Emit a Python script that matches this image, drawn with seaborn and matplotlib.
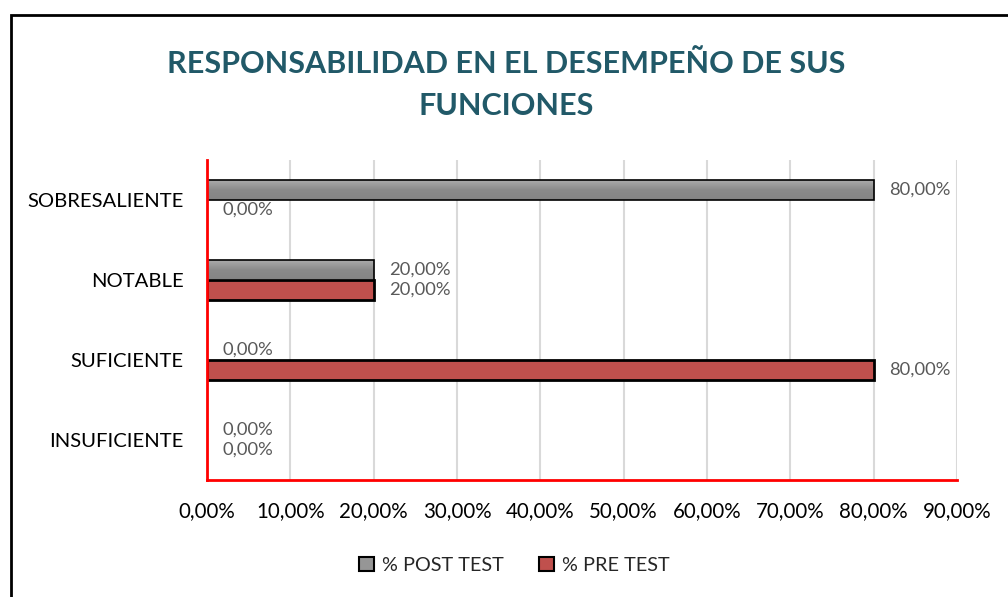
import matplotlib
matplotlib.use('Agg')
import matplotlib.pyplot as plt
import seaborn as sns
import numpy as np
import pandas as pd
from matplotlib.patches import Rectangle, Patch
from matplotlib.colors import LinearSegmentedColormap

# Datos del gráfico
categorias = ["SOBRESALIENTE", "NOTABLE", "SUFICIENTE", "INSUFICIENTE"]
series = ["% POST TEST", "% PRE TEST"]
post_test = [0.80, 0.20, 0.00, 0.00]
pre_test = [0.00, 0.20, 0.80, 0.00]
ticks_x = [0.0, 0.1, 0.2, 0.3, 0.4, 0.5, 0.6, 0.7, 0.8, 0.9]
titulo = "RESPONSABILIDAD EN EL DESEMPEÑO DE SUS\nFUNCIONES"

colores = ["#969696", "#C0504D"]


def pct(v):
    return f"{v * 100:.2f}".replace(".", ",") + "%"


df = pd.DataFrame({
    "categoria": categorias * 2,
    "serie": [series[0]] * len(categorias) + [series[1]] * len(categorias),
    "valor": post_test + pre_test,
})

sns.set_style("white")
plt.rcParams["font.family"] = ["Lato", "DejaVu Sans"]

fig = plt.figure(figsize=(10.08, 5.97), dpi=100)
ax = fig.add_axes([0.2054, 0.196, 0.744, 0.536])

sns.barplot(data=df, y="categoria", x="valor", hue="serie", order=categorias,
            hue_order=series, palette=colores, orient="h", width=0.5,
            saturation=1, legend=False, ax=ax)

degradado = LinearSegmentedColormap.from_list("gris", ["#ababab", "#8a8a8a", "#848484"])
grad = np.linspace(0, 1, 64).reshape(-1, 1)

# Bordes, degradado y etiquetas de datos
for i, cont in enumerate(ax.containers):
    for p in cont.patches:
        if p.get_width() == 0:
            p.set_linewidth(0)
            continue
        p.set_edgecolor("black")
        p.set_linewidth(1.2 if i == 0 else 2)
        if i == 0:
            x0, y0 = p.get_x(), p.get_y()
            w, h = p.get_width(), p.get_height()
            z = p.get_zorder()
            im = ax.imshow(grad, cmap=degradado, aspect="auto",
                           extent=(x0, x0 + w, y0 + h, y0), zorder=z + 0.1)
            im.set_clip_path(p)
            p.set_facecolor("none")
            p.set_zorder(z + 0.2)
    ax.bar_label(cont, labels=[pct(v) for v in cont.datavalues], padding=11,
                 color="#595959", fontsize=13.2)

ax.set_xlim(0, 0.9)
ax.set_ylim(len(categorias) - 0.5, -0.5)
ax.set_xticks(ticks_x)
ax.set_xticklabels([pct(t) for t in ticks_x])
ax.tick_params(axis="x", length=0, pad=15, labelsize=14.8, labelcolor="black")
ax.tick_params(axis="y", length=0, pad=17, labelsize=14.6, labelcolor="black")
ax.set_xlabel("")
ax.set_ylabel("")
ax.grid(axis="x", color="#d9d9d9", linewidth=1.5)
ax.set_axisbelow(True)

for s in ["top", "right"]:
    ax.spines[s].set_visible(False)
for s in ["left", "bottom"]:
    ax.spines[s].set_color("#ff0000")
    ax.spines[s].set_linewidth(2)

fig.text(0.502, 0.858, titulo, ha="center", va="center", fontsize=22,
         fontweight="bold", color="#215968", linespacing=1.6)

handles = [Patch(facecolor=c, edgecolor="black", linewidth=1.5) for c in colores]
fig.legend(handles, series, loc="center", bbox_to_anchor=(0.51, 0.053), ncol=2,
           frameon=False, fontsize=14.3, handlelength=0.75, handleheight=0.75,
           handletextpad=0.4, columnspacing=1.8)

# Marco exterior
fig.patches.append(Rectangle((11 / 1008, -0.1), 1.2, 1 - 15 / 597 + 0.1,
                             transform=fig.transFigure, fill=False,
                             edgecolor="black", linewidth=2))

fig.savefig("out.png", dpi=100)
